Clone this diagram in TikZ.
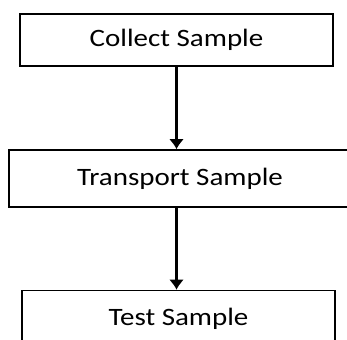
\documentclass[tikz,border=0pt]{standalone}
\usepackage{fontspec}
\setmainfont{Carlito}[FakeStretch=1.16]
\usetikzlibrary{arrows.meta}
\tikzset{>={Latex[length=10pt,width=15pt]}}
\tikzset{stage/.style={draw,line width=1.6pt,inner sep=0pt,font=\fontsize{25}{30}\selectfont,text=black}}

\begin{document}
\begin{tikzpicture}[x=1pt,y=1pt]
	\useasboundingbox (0,0) rectangle (347,-339);

	\node[stage,minimum width=313pt,minimum height=52pt] (collect) at (176.5,-40) {Collect Sample};
	\node[stage,minimum width=342pt,minimum height=57pt] (transport) at (180,-178.5) {Transport Sample};
	\node[stage,minimum width=313pt,minimum height=56pt] (test) at (178.5,-318.5) {Test Sample};

	% Pfeile
	\draw[line width=2.6pt][->](collect.south)--(collect.south |- transport.north);
	\draw[line width=2.6pt][->](collect.south |- transport.south)--(collect.south |- test.north);
\end{tikzpicture}
\end{document}
